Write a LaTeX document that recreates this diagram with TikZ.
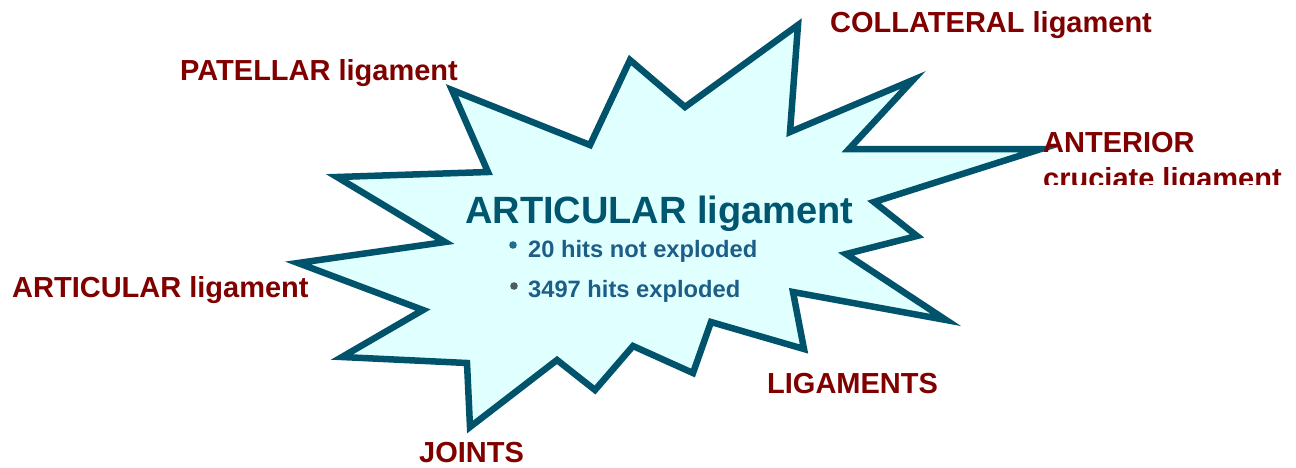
\documentclass[tikz,border=0pt]{standalone}
\usepackage{fontspec}
\setmainfont{Liberation Sans}
\definecolor{labelred}{HTML}{800000}
\definecolor{startteal}{HTML}{00536B}
\definecolor{starfill}{HTML}{E0FFFF}
\definecolor{titleteal}{HTML}{00566E}
\definecolor{bullettext}{HTML}{1D5E88}
\definecolor{dotblue}{HTML}{1F6E8C}
\definecolor{dotgray}{HTML}{4F5B66}
\begin{document}
\begin{tikzpicture}[x=1pt,y=-1pt,
  lbl/.style={anchor=base west,inner sep=0pt,text=labelred,font=\bfseries\fontsize{29}{33}\selectfont},
  ttl/.style={anchor=base west,inner sep=0pt,text=titleteal,font=\bfseries\fontsize{38}{44}\selectfont},
  bul/.style={anchor=base west,inner sep=0pt,text=bullettext,font=\bfseries\fontsize{23.7}{27}\selectfont},
  burst/.style={draw=startteal,fill=starfill,line width=6.5pt,line join=miter,miter limit=20}]
\useasboundingbox (0,0) rectangle (1296,467);
\fill[white] (0,0) rectangle (1296,467);
\draw[burst] (452,90) -- (590,145) -- (630,60) -- (685,107) -- (798,25) -- (790,132)
  -- (913,80) -- (849,149) -- (1041,149) -- (874,202) -- (917,236) -- (846,254)
  -- (946,320) -- (793,292) -- (804,349) -- (711,322) -- (693,373) -- (633,346)
  -- (595,390) -- (557,360) -- (470,427) -- (467,363) -- (342,357) -- (423,310)
  -- (298,263) -- (445,242) -- (337,177) -- (488,172) -- cycle;
\node[ttl] (title) at (465,223) {ARTICULAR ligament};
\fill[dotblue] (513,245) circle (3.8);
\node[bul] (b1) at (528,257) {20 hits not exploded};
\fill[dotgray] (514,286) circle (3.8);
\node[bul] (b2) at (528,297) {3497 hits exploded};
\node[lbl] (patellar) at (180,80) {PATELLAR ligament};
\node[lbl] (collateral) at (830,32) {COLLATERAL ligament};
\node[lbl] (anterior) at (1043,152) {ANTERIOR};
\begin{scope}
\clip (1030,158) rectangle (1296,184);
\node[lbl] (cruciate) at (1043,188) {cruciate ligament};
\end{scope}
\node[lbl] (articular) at (12,297) {ARTICULAR ligament};
\node[lbl] (ligaments) at (767,393) {LIGAMENTS};
\node[lbl] (joints) at (419,462.5) {JOINTS};
\end{tikzpicture}
\end{document}
